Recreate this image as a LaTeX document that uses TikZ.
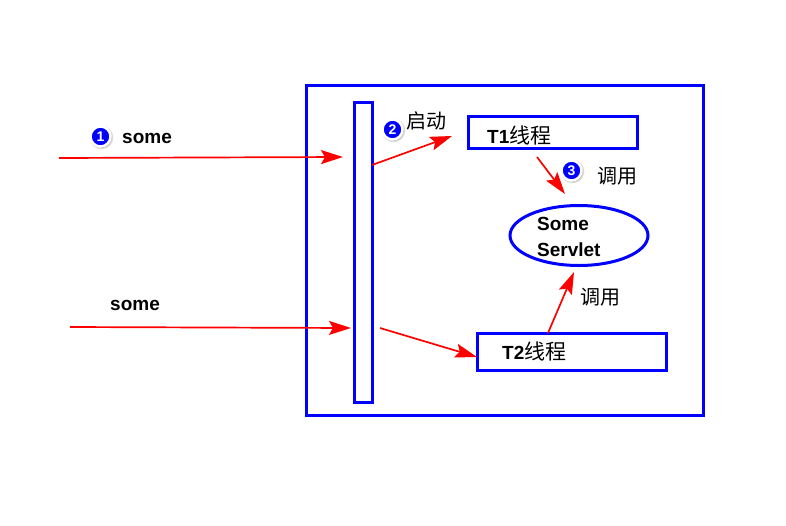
\documentclass[tikz,border=0pt]{standalone}
\usepackage{fontspec}
\setmainfont{Liberation Sans}
\newfontfamily\cjk{Noto Sans CJK SC}
\usetikzlibrary{arrows.meta,shapes.geometric}
\definecolor{bl}{RGB}{0,0,255}
\definecolor{rd}{RGB}{255,0,0}
\tikzset{
 box/.style={draw=bl,line width=3pt,fill=none,inner sep=0pt},
 arr/.style={draw=rd,line width=1.7pt,-{Stealth[length=22pt,width=14pt,inset=4pt]}},
 lab/.style={font=\fontsize{19}{22}\selectfont\bfseries,inner sep=0pt,text=black,anchor=base west},
 cn/.style={font=\fontsize{20}{22}\cjk,inner sep=0pt,text=black,anchor=base west},
 halo/.style={circle,fill=black!40,draw=black!15,line width=1.5pt,minimum size=22pt,inner sep=0pt},
 badge/.style={circle,draw=white,line width=2.5pt,fill=bl,minimum size=20pt,inner sep=0pt,text=white,
   font=\fontsize{14}{14}\selectfont\bfseries},
}
\begin{document}
\begin{tikzpicture}[x=1pt,y=-1pt]
\useasboundingbox (0,0) rectangle (786,525);
\fill[white] (0,0) rectangle (786,525);
\node[box,minimum width=397pt,minimum height=330pt] (outer) at (504.5,250) {};
\node[box,minimum width=18pt,minimum height=300pt] (bar) at (363,252.5) {};
\node[box,minimum width=169pt,minimum height=32pt] (t1) at (553,132) {};
\node[box,minimum width=189pt,minimum height=37pt] (t2) at (572,351.5) {};
\node[ellipse,draw=bl,line width=3pt,minimum width=138pt,minimum height=60pt,inner sep=0pt] (servlet) at (579,235.5) {};
\node[lab] (t1text) at (487,143) {T1{\fontsize{21}{22}\cjk\mdseries 线程}};
\node[lab] (t2text) at (502,359) {T2{\fontsize{21}{22}\cjk\mdseries 线程}};
\node[lab] (some1) at (122,143) {some};
\node[lab] (some2) at (110,310) {some};
\node[lab] (s1) at (537,230) {Some};
\node[lab] (s2) at (537,256) {Servlet};
\node[cn] (qd) at (406,128) {启动};
\node[cn] (dy1) at (597,183) {调用};
\node[cn] (dy2) at (580,304) {调用};
\node[halo] (h1) at (101.5,137.5) {};
\node[halo] (h2) at (393.5,130.5) {};
\node[halo] (h3) at (572.5,171.5) {};
\node[badge] (b1) at (100.5,136.5) {1};
\node[badge] (b2) at (392.5,129.5) {2};
\node[badge] (b3) at (571.5,170.5) {3};
\coordinate (a1s) at (59,158);
\coordinate (a1e) at (343,157);
\coordinate (a2s) at (70,327);
\coordinate (a2e) at (351,328);
\coordinate (a3s) at (372,165);
\coordinate (a3e) at (452,136);
\coordinate (a4s) at (537,157);
\coordinate (a4e) at (565,194);
\coordinate (a5s) at (380,328);
\coordinate (a5e) at (477,357);
\coordinate (a6s) at (548,333);
\coordinate (a6e) at (574,272);
\draw[arr] (a1s) -- (a1e);
\draw[arr] (a2s) -- (a2e);
\draw[arr] (a3s) -- (a3e);
\draw[arr] (a4s) -- (a4e);
\draw[arr] (a5s) -- (a5e);
\draw[arr] (a6s) -- (a6e);
\end{tikzpicture}
\end{document}
